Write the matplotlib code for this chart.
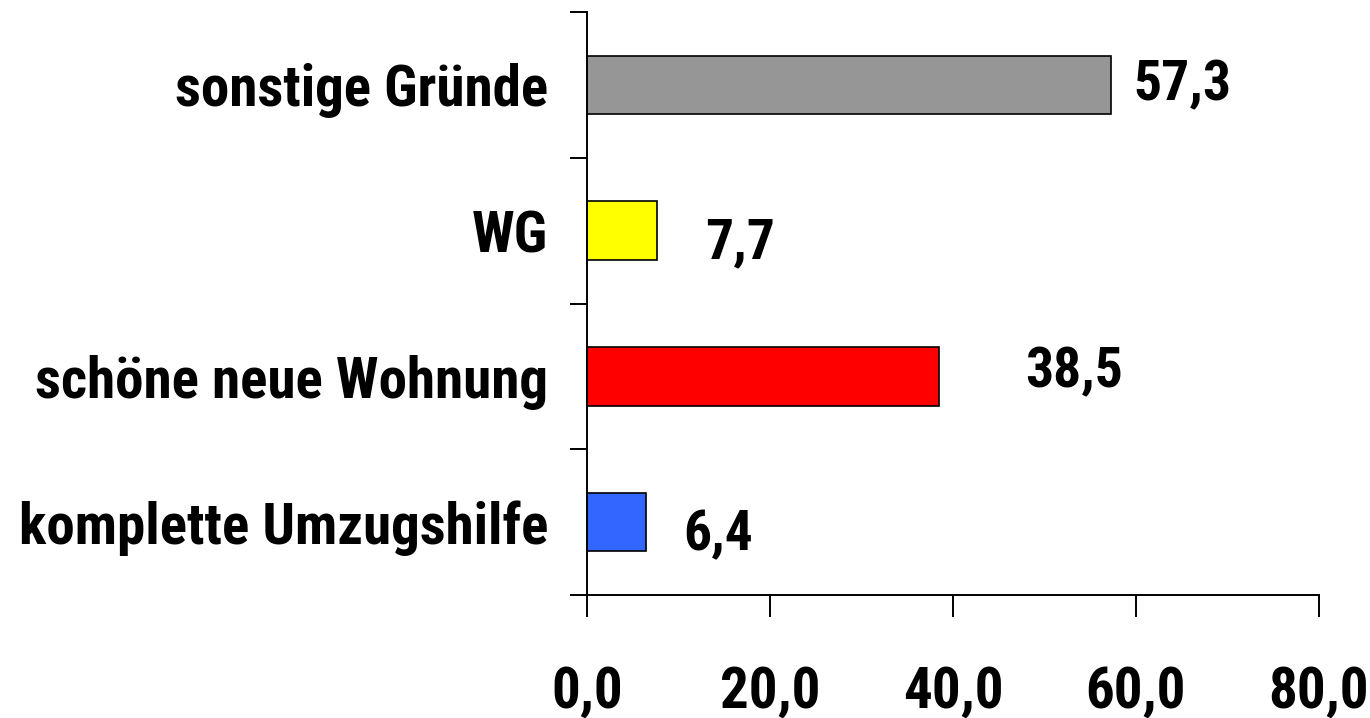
import numpy as np
import matplotlib
matplotlib.use("Agg")
import matplotlib.pyplot as plt

# data (bottom to top)
categories = ["komplette Umzugshilfe", "schöne neue Wohnung", "WG", "sonstige Gründe"]
values = [6.4, 38.5, 7.7, 57.3]
bar_colors = ["#3366FF", "#FF0000", "#FFFF00", "#969696"]
xticks = [0, 20, 40, 60, 80]

# label offsets from bar end, in pixels (dx, dy)
label_offsets = [(38, -13), (86, 4), (48, -13), (22, 0)]

plt.rcParams['font.family'] = ['Roboto Condensed', 'DejaVu Sans']
plt.rcParams['font.weight'] = 'bold'
FS = 41

fig = plt.figure(figsize=(13.7, 7.18), dpi=100)
ax = fig.add_axes([587 / 1370, 1 - 595 / 718, (1319 - 587) / 1370, (595 - 12) / 718])

y = np.arange(len(categories))
ax.barh(y, values, height=0.4, color=bar_colors, edgecolor="black", linewidth=1.2)

for yi, v, (dx, dy) in zip(y, values, label_offsets):
    ax.annotate(f"{v:.1f}".replace(".", ","), xy=(v, yi),
                xytext=(dx * 0.72, dy * 0.72), textcoords="offset points",
                ha="left", va="center", fontsize=FS - 1, fontweight="bold")

ax.set_xlim(0, 80)
ax.set_ylim(-0.5, len(categories) - 0.5)

ax.set_xticks(xticks)
ax.set_xticklabels([f"{t:.1f}".replace(".", ",") for t in xticks], fontsize=FS, fontweight="bold")
ax.tick_params(axis="x", direction="out", length=16, width=1.4, pad=34)

ax.set_yticks(y)
ax.set_yticklabels(categories, fontsize=FS, fontweight="bold")
ax.set_yticks(np.arange(-0.5, len(categories), 1.0), minor=True)
ax.tick_params(axis="y", which="major", length=0, pad=28)
ax.tick_params(axis="y", which="minor", direction="out", length=12, width=1.4)

for side in ["top", "right"]:
    ax.spines[side].set_visible(False)
for side in ["left", "bottom"]:
    ax.spines[side].set_linewidth(1.4)

fig.savefig("out.png", dpi=100)
